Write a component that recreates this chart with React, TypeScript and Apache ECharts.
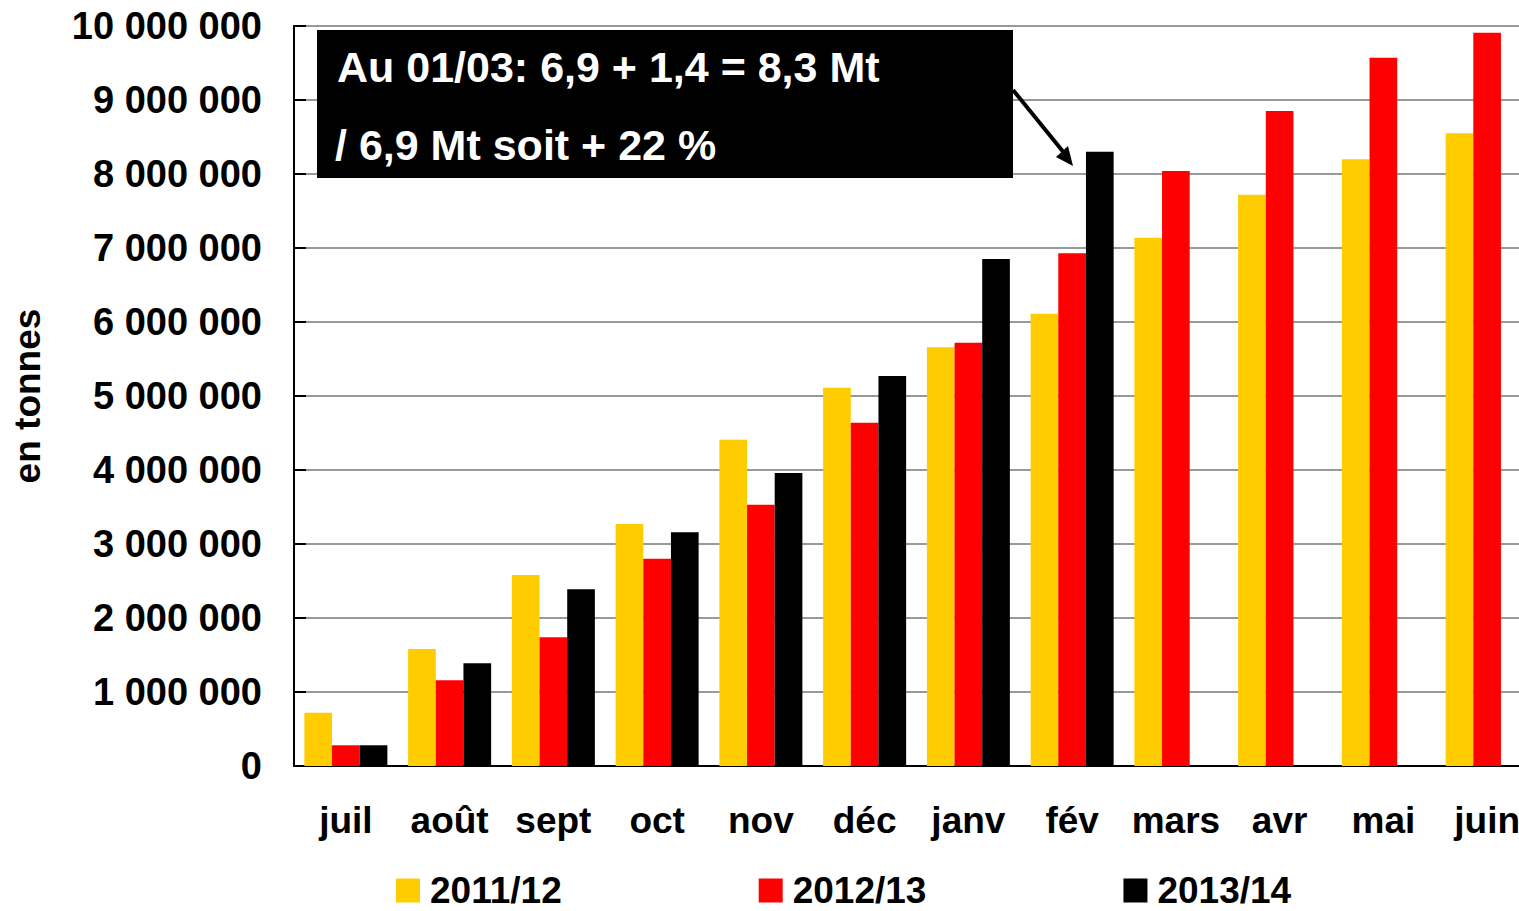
import React, { useEffect, useRef } from "react";
import * as echarts from "echarts";

const categories = ["juil", "août", "sept", "oct", "nov", "déc", "janv", "fév", "mars", "avr", "mai", "juin"];
const seriesNames = ["2011/12", "2012/13", "2013/14"];
const values201112 = [720000, 1580000, 2580000, 3270000, 4410000, 5110000, 5660000, 6110000, 7140000, 7720000, 8200000, 8550000];
const values201213 = [280000, 1160000, 1740000, 2800000, 3530000, 4640000, 5720000, 6930000, 8040000, 8850000, 9570000, 9910000];
const values201314 = [280000, 1390000, 2390000, 3160000, 3960000, 5270000, 6850000, 8300000, null, null, null, null];
const colors = ["#FFCC00", "#FF0000", "#000000"];
const annotationLines = ["Au 01/03: 6,9 + 1,4 = 8,3 Mt", "/ 6,9 Mt soit + 22 %"];

const FONT = "'Liberation Sans', Arial, sans-serif";

function formatTick(v: number): string {
  return String(Math.round(v)).replace(/\B(?=(\d{3})+(?!\d))/g, " ");
}

export default function App() {
  const ref = useRef<HTMLDivElement>(null);
  useEffect(() => {
    document.body.style.margin = "0";
    if (!ref.current) return;
    const chart = echarts.init(ref.current, undefined, { renderer: "svg" });
    const seriesData = [values201112, values201213, values201314];
    chart.setOption({
      animation: false,
      backgroundColor: "#ffffff",
      textStyle: { fontFamily: FONT },
      grid: {
        left: 294,
        right: -20,
        top: 26,
        bottom: 145,
        outerBoundsMode: "none",
        containLabel: false,
        show: true,
        borderColor: "#000",
        borderWidth: 2,
        backgroundColor: "transparent",
      },
      legend: {
        data: seriesNames,
        left: 396,
        top: 872,
        padding: 0,
        itemWidth: 24,
        itemHeight: 24,
        itemGap: 197,
        icon: "rect",
        textStyle: {
          fontFamily: FONT,
          fontWeight: "bold",
          fontSize: 37,
          color: "#000",
          padding: [0, 0, 0, 5],
        },
      },
      xAxis: {
        type: "category",
        data: categories,
        axisLine: { lineStyle: { color: "#000", width: 2 } },
        axisTick: { show: false },
        axisLabel: {
          fontFamily: FONT,
          fontWeight: "bold",
          fontSize: 37,
          color: "#000",
          margin: 36,
          interval: 0,
        },
      },
      yAxis: {
        type: "value",
        min: 0,
        max: 10000000,
        interval: 1000000,
        name: "en tonnes",
        nameLocation: "middle",
        nameGap: 248,
        nameRotate: 90,
        nameTextStyle: {
          fontFamily: FONT,
          fontWeight: "bold",
          fontSize: 37,
          color: "#000",
        },
        axisLine: { show: true, lineStyle: { color: "#000", width: 2 } },
        axisTick: { show: true, inside: true, length: 12, lineStyle: { color: "#000", width: 2 } },
        splitLine: { show: true, lineStyle: { color: "#999", width: 2 } },
        axisLabel: {
          fontFamily: FONT,
          fontWeight: "bold",
          fontSize: 38,
          color: "#000",
          margin: 32,
          formatter: (v: number) => formatTick(v),
        },
      },
      series: seriesNames.map((name, i) => ({
        name,
        type: "bar",
        data: seriesData[i],
        itemStyle: { color: colors[i] },
        barGap: "0%",
        barCategoryGap: "20%",
      })),
      graphic: [
        {
          type: "rect",
          shape: { x: 317, y: 30, width: 696, height: 148 },
          style: { fill: "#000" },
          z: 100,
        },
        {
          type: "text",
          x: 337,
          y: 67,
          style: {
            text: annotationLines[0],
            fill: "#fff",
            font: `bold 43px ${FONT}`,
            verticalAlign: "middle",
          },
          z: 101,
        },
        {
          type: "text",
          x: 335,
          y: 145,
          style: {
            text: annotationLines[1],
            fill: "#fff",
            font: `bold 43px ${FONT}`,
            verticalAlign: "middle",
          },
          z: 101,
        },
        {
          type: "line",
          shape: { x1: 1013, y1: 90, x2: 1065, y2: 154 },
          style: { stroke: "#000", lineWidth: 4 },
          z: 100,
        },
        {
          type: "polygon",
          shape: { points: [[1073, 166], [1056, 157], [1068, 146]] },
          style: { fill: "#000" },
          z: 100,
        },
      ],
    });
    return () => chart.dispose();
  }, []);
  return <div ref={ref} style={{ width: 1519, height: 911 }} />;
}
